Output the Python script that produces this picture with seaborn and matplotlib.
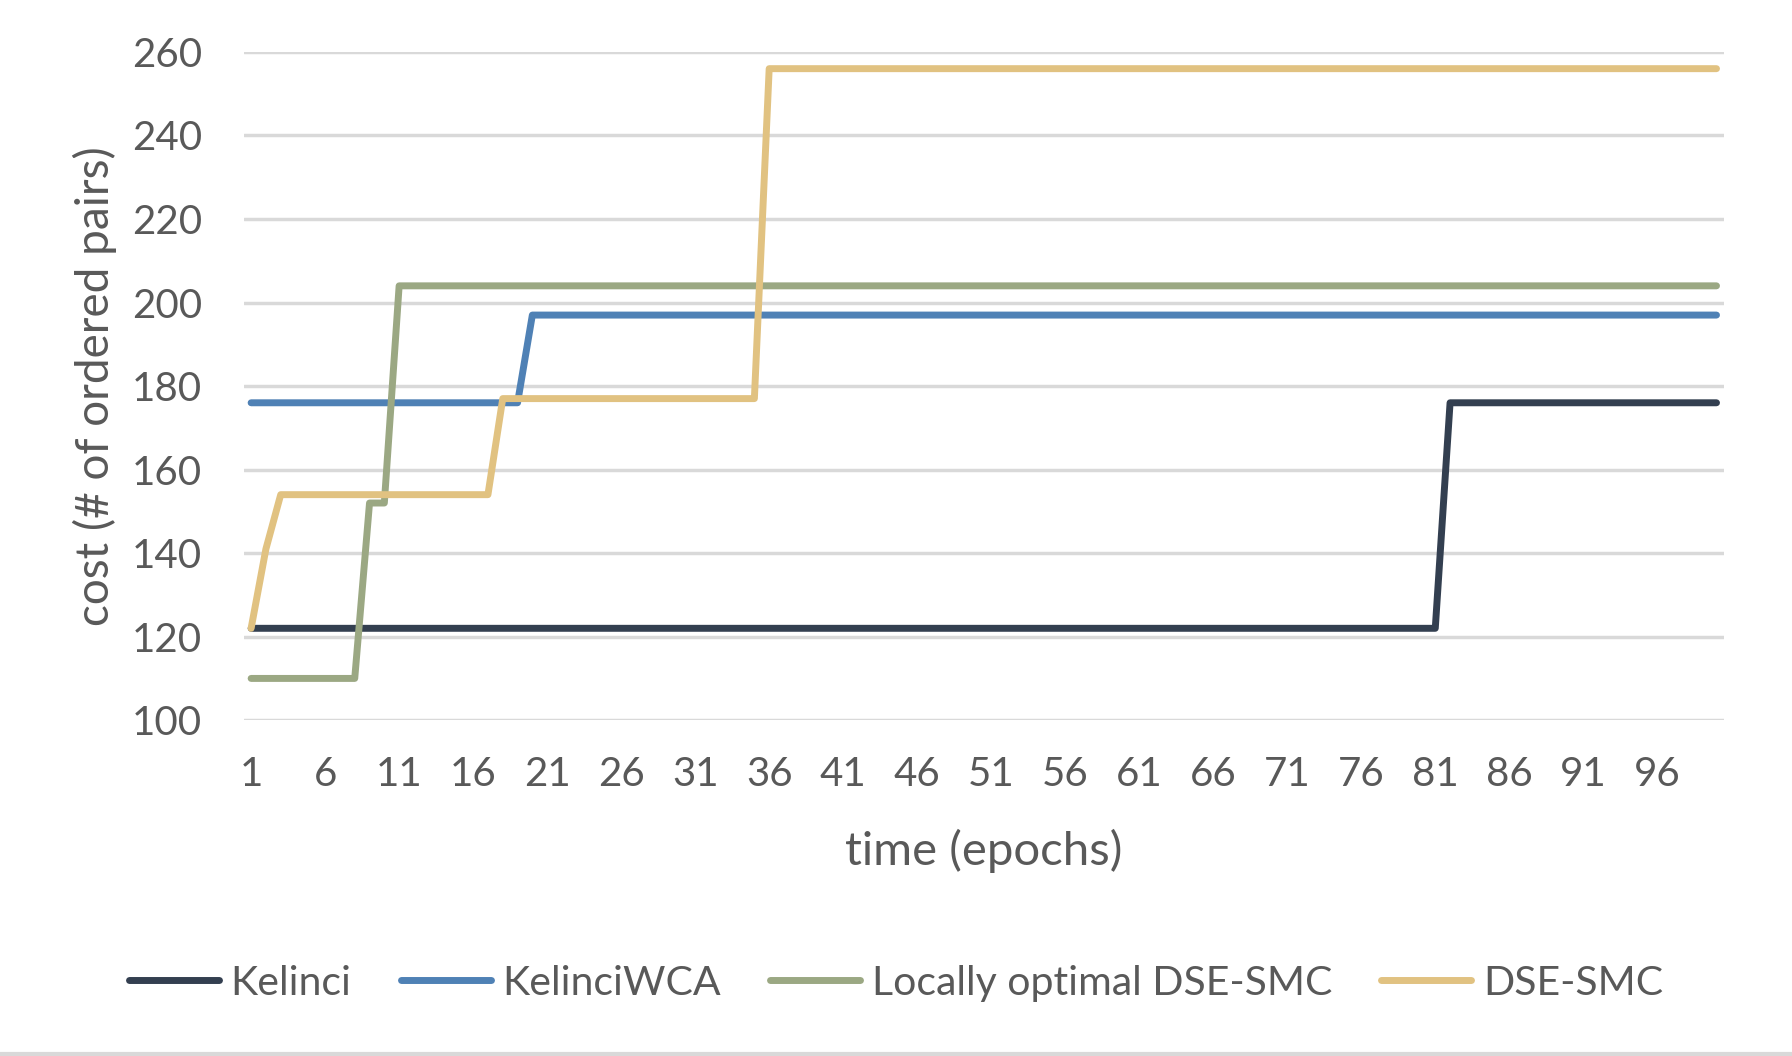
import numpy as np
import pandas as pd
import seaborn as sns
import matplotlib.pyplot as plt
from matplotlib.lines import Line2D

# epochs 1..100, values (step-like series)
epochs = list(range(1, 101))
kelinci = [122] * 81 + [176] * 19
kelinci_wca = [176] * 19 + [197] * 81
local_dse = [110] * 8 + [152] * 2 + [204] * 90
dse_smc = [122, 141] + [154] * 15 + [177] * 18 + [256] * 65

names = ["Kelinci", "KelinciWCA", "Locally optimal DSE-SMC", "DSE-SMC"]
colors = ["#333F50", "#4F81B5", "#9BA883", "#E1C281"]

df = pd.DataFrame({
    "epoch": epochs * 4,
    "cost": kelinci + kelinci_wca + local_dse + dse_smc,
    "series": [n for n in names for _ in epochs],
})

sns.set_theme(style="white")
plt.rcParams["font.family"] = ["Lato", "DejaVu Sans"]
text_col = "#595959"

fig = plt.figure(figsize=(17.92, 10.56), dpi=100)
ax = fig.add_axes([0.136, 0.318, 0.826, 0.6328])

sns.lineplot(data=df, x="epoch", y="cost", hue="series", hue_order=names,
             palette=colors, linewidth=5, legend=False, ax=ax)

ax.set_xlim(0.5, 100.5)
ax.set_ylim(100, 260)
ax.set_yticks(range(100, 261, 20))
ax.set_xticks(range(1, 100, 5))
ax.grid(axis="y", color="#D9D9D9", linewidth=2.5)
ax.set_axisbelow(True)
for s in ax.spines.values():
    s.set_visible(False)
ax.tick_params(axis="both", length=0, labelsize=29, labelcolor=text_col)
ax.tick_params(axis="x", pad=26)
ax.tick_params(axis="y", pad=30)

ax.set_xlabel("time (epochs)", fontsize=34, color=text_col, va="center")
ax.xaxis.set_label_coords(0.5, -0.196)
ax.set_ylabel("cost (# of ordered pairs)", fontsize=33, color=text_col, va="center")
ax.yaxis.set_label_coords(-0.1008, 0.5)

handles = [Line2D([], [], color=c, linewidth=5, solid_capstyle="round") for c in colors]
fig.legend(handles, names, loc="center", bbox_to_anchor=(0.5, 0.069), ncol=4,
           frameon=False, fontsize=29.5, labelcolor=text_col, handlelength=2.2,
           handletextpad=0.28, columnspacing=1.2)

# thin chart border at the bottom edge
fig.add_artist(Line2D([0, 1], [0.002, 0.002], color="#D9D9D9", linewidth=3))

fig.savefig("out.png", dpi=100)
